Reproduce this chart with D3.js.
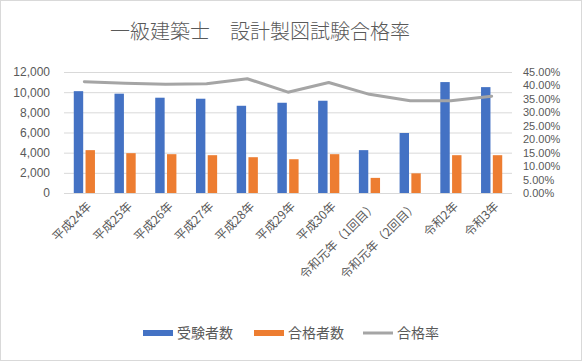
<!DOCTYPE html>
<html>
<head>
<meta charset="utf-8">
<script src="https://cdn.jsdelivr.net/npm/d3@7"></script>
<style>
    body { margin: 0; background: #fff; }
    svg text { font-family: "Noto Sans CJK JP", "Noto Sans", sans-serif; fill: #595959; }
    svg .pct text { font-family: "Liberation Sans", "DejaVu Sans", sans-serif; }
</style>
</head>
<body>
<svg id="SVG_CONTAINER_Chart" width="582" height="361"></svg>
<script>
//** DATA *****************************************
const categories = ["平成24年", "平成25年", "平成26年", "平成27年", "平成28年", "平成29年",
    "平成30年", "令和元年（1回目）", "令和元年（2回目）", "令和2年", "令和3年"];
const examinees = [10100, 9850, 9450, 9350, 8650, 8950, 9150, 4250, 5950, 11000, 10500];
const passers = [4250, 3950, 3850, 3750, 3550, 3350, 3850, 1500, 1950, 3750, 3750];
const passRate = [0.414, 0.408, 0.404, 0.406, 0.425, 0.375, 0.411, 0.367, 0.343, 0.343, 0.360];
const leftTicks = [0, 2000, 4000, 6000, 8000, 10000, 12000];
const rightTicks = [0, 0.05, 0.10, 0.15, 0.20, 0.25, 0.30, 0.35, 0.40, 0.45];
const seriesNames = ["受験者数", "合格者数", "合格率"];
const colours = ["#4472C4", "#ED7D31", "#A5A5A5"];

let svg = d3.select("#SVG_CONTAINER_Chart");
const width = 582, height = 361;
const PLOT = { LEFT: 64, RIGHT: 512, TOP: 72, BOTTOM: 193 };

//chart border
svg.append("rect")
    .attr("x", 0.5).attr("y", 0.5)
    .attr("width", width - 1).attr("height", height - 1)
    .attr("fill", "#fff")
    .attr("stroke", "#D9D9D9");

//** SCALES *****************************************
let xScale = d3.scaleBand()
    .domain(categories)
    .range([PLOT.LEFT, PLOT.RIGHT])
    .paddingInner(0.48)
    .paddingOuter(0.24);

let innerScale = d3.scaleBand()
    .domain([0, 1])
    .range([0, xScale.bandwidth()])
    .paddingInner(0.2);

let yLeft = d3.scaleLinear()
    .domain([0, 12000])
    .range([PLOT.BOTTOM, PLOT.TOP]);

let yRight = d3.scaleLinear()
    .domain([0, 0.45])
    .range([PLOT.BOTTOM, PLOT.TOP]);

//** TITLE *****************************************
svg.append("text")
    .attr("x", 260)
    .attr("y", 39)
    .attr("text-anchor", "middle")
    .attr("font-size", "20px")
    .attr("font-weight", 300)
    .text("一級建築士　設計製図試験合格率");

//** AXES *****************************************
let leftAxis = d3.axisLeft(yLeft)
    .tickValues(leftTicks)
    .tickFormat(d3.format(","))
    .tickSize(-(PLOT.RIGHT - PLOT.LEFT))
    .tickPadding(14);

let leftG = svg.append("g")
    .attr("class", "pct")
    .attr("transform", "translate(" + PLOT.LEFT + ",0)")
    .call(leftAxis);
leftG.select(".domain").remove();
leftG.selectAll(".tick line").attr("stroke", "#D9D9D9");
leftG.selectAll(".tick text")
    .attr("font-size", "12px")
    .attr("fill", "#595959");

//percent axis on the right
let rightAxis = d3.axisRight(yRight)
    .tickValues(rightTicks)
    .tickFormat(d3.format(".2%"))
    .tickSize(0)
    .tickPadding(11);

let rightG = svg.append("g")
    .attr("class", "pct")
    .attr("transform", "translate(" + PLOT.RIGHT + ",0)")
    .call(rightAxis);
rightG.select(".domain").remove();
rightG.selectAll(".tick text")
    .attr("font-size", "11px")
    .attr("fill", "#595959");

//category labels, rotated
svg.append("g")
    .selectAll("text")
    .data(categories)
    .enter()
    .append("text")
    .attr("transform", d => "translate(" + (xScale(d) + xScale.bandwidth() / 2 + 5) + "," + (PLOT.BOTTOM + 11) + ") rotate(-45)")
    .attr("text-anchor", "end")
    .attr("dy", "0.35em")
    .attr("font-size", "12px")
    .text(d => d);

//** BARS *****************************************
let bars = svg.append("g");
[examinees, passers].forEach((series, i) => {
    bars.append("g")
        .selectAll("rect")
        .data(series)
        .enter()
        .append("rect")
        .attr("x", (d, j) => xScale(categories[j]) + innerScale(i))
        .attr("y", d => yLeft(d))
        .attr("width", innerScale.bandwidth())
        .attr("height", d => yLeft(0) - yLeft(d))
        .attr("fill", colours[i]);
});

//** LINE *****************************************
let line = d3.line()
    .x((d, j) => xScale(categories[j]) + xScale.bandwidth() / 2)
    .y(d => yRight(d));

svg.append("path")
    .datum(passRate)
    .attr("d", line)
    .attr("fill", "none")
    .attr("stroke", colours[2])
    .attr("stroke-width", 3)
    .attr("stroke-linejoin", "round")
    .attr("stroke-linecap", "round");

//** LEGEND *****************************************
const legendX = [143, 254, 363];
const legendY = 333;
let legend = svg.append("g");
seriesNames.forEach((name, i) => {
    if (i < 2) {
        legend.append("rect")
            .attr("x", legendX[i]).attr("y", legendY - 3)
            .attr("width", 30).attr("height", 6)
            .attr("fill", colours[i]);
    } else {
        legend.append("line")
            .attr("x1", legendX[i]).attr("x2", legendX[i] + 30)
            .attr("y1", legendY).attr("y2", legendY)
            .attr("stroke", colours[i])
            .attr("stroke-width", 3);
    }
    legend.append("text")
        .attr("x", legendX[i] + 34)
        .attr("y", legendY)
        .attr("dy", "0.35em")
        .attr("font-size", "14px")
        .text(name);
});
</script>
</body>
</html>
